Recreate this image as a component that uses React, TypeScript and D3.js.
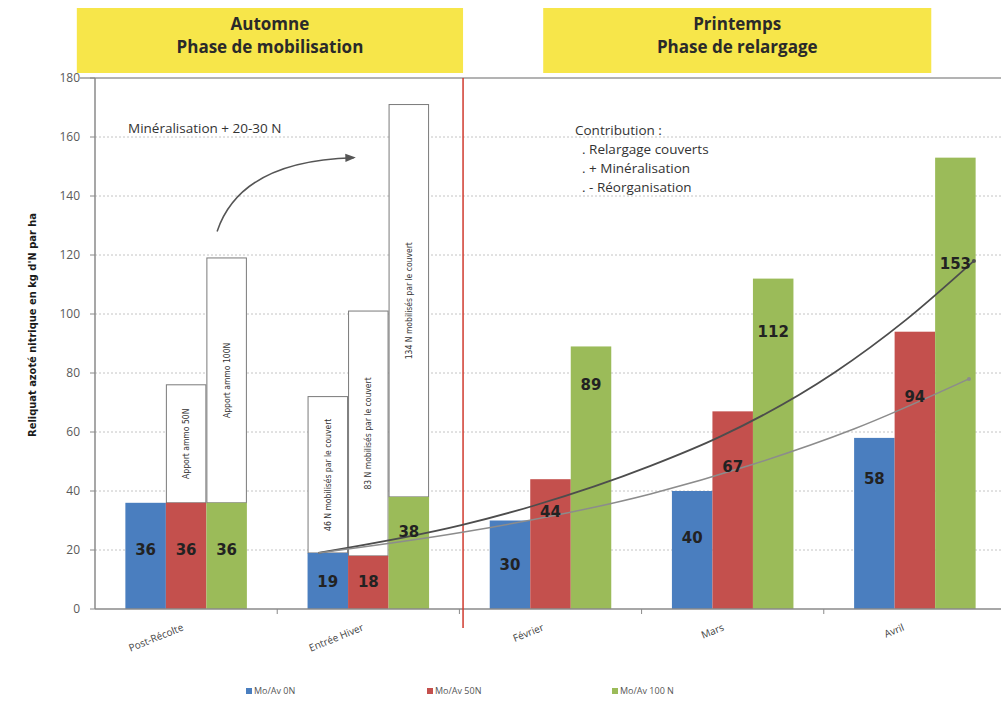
import React from 'react';
import * as d3 from 'd3';

// ---------- data ----------
const categories = ['Post-Récolte', 'Entrée Hiver', 'Février', 'Mars', 'Avril'];
const seriesNames = ['Mo/Av 0N', 'Mo/Av 50N', 'Mo/Av 100 N'];
const seriesColors = ['#4a7ebf', '#c4504d', '#9bbb59'];

const values0N = [36, 19, 30, 40, 58];
const values50N = [36, 18, 44, 67, 94];
const values100N = [36, 38, 89, 112, 153];

// level (in kg N/ha) at which each value label is written
const labelLevel0N = [20, 9, 15, 24, 44];
const labelLevel50N = [20, 9, 33, 48, 72];
const labelLevel100N = [20, 26, 76, 94, 117];

// white stacked boxes above bars (top value), null = none
const boxTop0N = [null, 72, null, null, null];
const boxTop50N = [76, 101, null, null, null];
const boxTop100N = [119, 171, null, null, null];
const boxText0N = [null, '46 N mobilisés par le couvert', null, null, null];
const boxText50N = ['Apport ammo 50N', '83 N mobilisés par le couvert', null, null, null];
const boxText100N = ['Apport ammo 100N', '134 N mobilisés par le couvert', null, null, null];

const yTicks = [0, 20, 40, 60, 80, 100, 120, 140, 160, 180];

// trend curves: [category position, value]
const trendDark: [number, number][] = [
  [0.725, 19], [1.516, 28.5], [1.907, 35], [2.549, 48.5], [2.934, 58.5],
  [3.555, 80], [3.951, 98], [4.324, 118],
];
const trendLight: [number, number][] = [
  [0.725, 19], [1.516, 26], [2.549, 39], [3.099, 48.8], [3.665, 61], [4.297, 78],
];
// annotation arrow: [category position, value]
const arrowPts: [number, number][] = [[0.17, 128], [0.3, 152], [0.92, 153]];

const headers = [
  { lines: ['Automne', 'Phase de mobilisation'], from: -0.6, to: 1.52 },
  { lines: ['Printemps', 'Phase de relargage'], from: 1.96, to: 4.09 },
];
const contribution = ['Contribution :', '. Relargage couverts', '. + Minéralisation', '. - Réorganisation'];

// ---------- layout ----------
const W = 1001;
const H = 702;
const left = 95;
const right = 1006;
const y0 = 609;
const yTop = 78;
const FONT = "'Open Sans', 'Noto Sans', sans-serif";
const NARROW = "'Liberation Sans Narrow', 'DejaVu Sans Condensed', sans-serif";

export default function App() {
  const x = d3.scaleBand<string>().domain(categories).range([left, right]).paddingInner(0.333).paddingOuter(0.1667);
  const inner = d3.scaleBand<number>().domain([0, 1, 2]).range([0, x.bandwidth()]).padding(0);
  const y = d3.scaleLinear().domain([0, 180]).range([y0, yTop]);
  const cx = d3.scaleLinear().domain([0, 4]).range([
    (x(categories[0]) as number) + x.bandwidth() / 2,
    (x(categories[4]) as number) + x.bandwidth() / 2,
  ]);

  const series = [values0N, values50N, values100N];
  const levels = [labelLevel0N, labelLevel50N, labelLevel100N];
  const boxTops = [boxTop0N, boxTop50N, boxTop100N];
  const boxTexts = [boxText0N, boxText50N, boxText100N];

  const line = d3.line<[number, number]>().x(d => cx(d[0])).y(d => y(d[1])).curve(d3.curveMonotoneX);
  const ap = d3.path();
  ap.moveTo(cx(arrowPts[0][0]), y(arrowPts[0][1]));
  ap.quadraticCurveTo(cx(arrowPts[1][0]), y(arrowPts[1][1]), cx(arrowPts[2][0]), y(arrowPts[2][1]));

  const step = x.step();
  const boundaries = [1, 2, 3, 4].map(i => (x(categories[i]) as number) - (step - x.bandwidth()) / 2);
  const dividerX = cx(1.52);

  return (
    <svg width={W} height={H} style={{ position: 'absolute', left: 0, top: 0, background: '#fff' }} fontFamily={FONT}>
      <defs>
        <marker id="ah" viewBox="0 0 10 10" refX="8" refY="5" markerWidth="7" markerHeight="7" orient="auto">
          <path d="M0,1 L10,5 L0,9 z" fill="#555" />
        </marker>
      </defs>
      <rect x={0} y={0} width={W} height={H} fill="#fff" />

      {/* headers */}
      {headers.map((h, i) => {
        const x1 = cx(h.from), x2 = cx(h.to);
        return (
          <g key={i}>
            <rect x={x1} y={8} width={x2 - x1} height={65} fill="#f7e64a" />
            {h.lines.map((t, j) => (
              <text key={j} x={(x1 + x2) / 2} y={30 + j * 23} textAnchor="middle" fontSize={17} fontWeight={700} fill="#2a2a2a">{t}</text>
            ))}
          </g>
        );
      })}

      {/* gridlines */}
      {yTicks.filter(t => t > 0 && t < 180).map(t => (
        <line key={t} x1={left} x2={W} y1={y(t)} y2={y(t)} stroke="#c4c4c4" strokeWidth={1} strokeDasharray="2,2" />
      ))}
      <line x1={80} x2={W} y1={y(180)} y2={y(180)} stroke="#9a9a9a" strokeWidth={1.5} />

      {/* y axis */}
      <line x1={left} x2={left} y1={yTop} y2={y0} stroke="#8a8a8a" strokeWidth={1.5} />
      {yTicks.map(t => (
        <g key={t}>
          <line x1={left - 5} x2={left} y1={y(t)} y2={y(t)} stroke="#8a8a8a" />
          <text x={80} y={y(t) + 4} textAnchor="end" fontSize={12} fill="#5a5a5a">{t}</text>
        </g>
      ))}
      <text transform={`translate(36,325) rotate(-90)`} textAnchor="middle" fontSize={11} fontWeight={700} fontFamily={NARROW} fill="#1a1a1a">
        Reliquat azoté nitrique en kg d'N par ha
      </text>

      {/* bars */}
      {categories.map((c, ci) => (
        <g key={c}>
          {series.map((s, si) => {
            const bx = (x(c) as number) + (inner(si) as number);
            const bw = inner.bandwidth();
            const top = boxTops[si][ci];
            const txt = boxTexts[si][ci];
            return (
              <g key={si}>
                {top != null && (
                  <rect x={bx + 0.5} y={y(top)} width={bw - 1} height={y(s[ci]) - y(top)} fill="#fff" stroke="#7a7a7a" strokeWidth={1} />
                )}
                {txt && top != null && (
                  <text transform={`translate(${bx + bw / 2 + 3},${y((top + s[ci]) / 2)}) rotate(-90)`} textAnchor="middle" fontSize={8.5} fontFamily={NARROW} fill="#333">{txt}</text>
                )}
                <rect x={bx} y={y(s[ci])} width={bw} height={y0 - y(s[ci])} fill={seriesColors[si]} />
              </g>
            );
          })}
        </g>
      ))}

      {/* x axis */}
      <line x1={left} x2={W} y1={y0} y2={y0} stroke="#8a8a8a" strokeWidth={1.5} />
      {boundaries.map((b, i) => (
        <line key={i} x1={b} x2={b} y1={y0} y2={y0 + 5} stroke="#8a8a8a" />
      ))}
      {categories.map((c, ci) => (
        <text key={c} transform={`translate(${cx(ci) - 2 - ci * 2},${630}) rotate(-22)`} textAnchor="end" fontSize={10} fill="#444">{c}</text>
      ))}

      {/* divider */}
      <line x1={dividerX} x2={dividerX} y1={yTop} y2={628} stroke="#d03a2e" strokeWidth={1.5} />

      {/* trend curves */}
      <path d={line(trendDark) || ''} fill="none" stroke="#4d4d4d" strokeWidth={1.8} />
      <path d={line(trendLight) || ''} fill="none" stroke="#8c8c8c" strokeWidth={1.5} />
      <circle cx={cx(trendDark[trendDark.length - 1][0])} cy={y(trendDark[trendDark.length - 1][1])} r={2} fill="#4d4d4d" />
      <circle cx={cx(trendLight[trendLight.length - 1][0])} cy={y(trendLight[trendLight.length - 1][1])} r={2} fill="#8c8c8c" />

      {/* value labels */}
      {categories.map((c, ci) => series.map((s, si) => {
        const bx = (x(c) as number) + (inner(si) as number) + inner.bandwidth() / 2;
        return (
          <text key={`${ci}-${si}`} x={bx} y={y(levels[si][ci]) + 5} textAnchor="middle" fontSize={15} fontWeight={700} fontFamily="'DejaVu Sans', sans-serif" fill="#222">
            {s[ci]}
          </text>
        );
      }))}

      {/* annotations */}
      <text x={128} y={133} fontSize={13.5} fill="#333">Minéralisation + 20-30 N</text>
      <path d={ap.toString()} fill="none" stroke="#555" strokeWidth={1.5} markerEnd="url(#ah)" />
      {contribution.map((t, i) => (
        <text key={i} x={i === 0 ? 575 : 582} y={135 + i * 19} fontSize={13.5} fill="#333">{t}</text>
      ))}

      {/* legend */}
      {seriesNames.map((n, i) => {
        const lx = [246, 427, 612][i];
        return (
          <g key={n}>
            <rect x={lx} y={688} width={6} height={6} fill={seriesColors[i]} />
            <text x={lx + 8} y={694} fontSize={9} fill="#555">{n}</text>
          </g>
        );
      })}
    </svg>
  );
}
